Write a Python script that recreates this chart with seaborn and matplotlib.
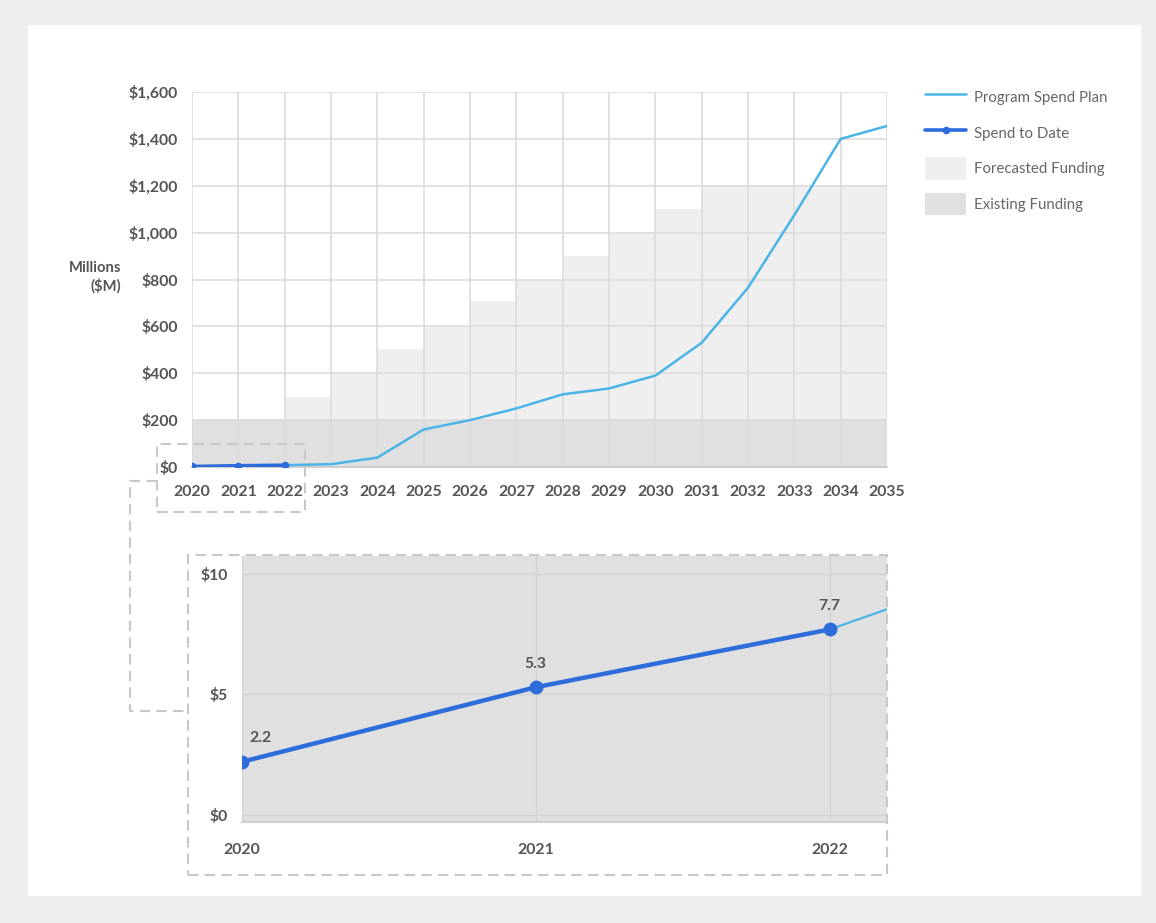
import matplotlib
matplotlib.use("Agg")
import matplotlib.pyplot as plt
from matplotlib.patches import Rectangle, Patch
from matplotlib.lines import Line2D
import seaborn as sns
import pandas as pd

# ---------------- data ----------------
years = list(range(2020, 2036))
plan_spend = [2.2, 5.3, 7.7, 12, 40, 160, 200, 250, 310, 335, 390, 530, 765, 1075, 1400, 1455]
bar_years = list(range(2020, 2035))
forecast_funding = [200, 200, 300, 400, 505, 600, 710, 800, 900, 1000, 1100, 1200, 1200, 1200, 1200]
existing_funding = [200] * 15
spend_years = [2020, 2021, 2022]
spend_to_date = [2.2, 5.3, 7.7]
y_ticks_main = [0, 200, 400, 600, 800, 1000, 1200, 1400, 1600]
y_ticks_inset = [0, 5, 10]

C_PLAN = "#4bb4e6"
C_SPEND = "#2d6cdb"
C_FORE = "#efefef"
C_EXIST = "#e0e0e0"
C_GRID = "#dcdcdc"
C_TEXT = "#555555"
C_DASH = "#c8c8c8"
FS = 11.3

sns.set_theme(style="white")
plt.rcParams["font.family"] = ["Lato", "DejaVu Sans"]

W, H = 1156, 923
fig = plt.figure(figsize=(W / 100, H / 100), dpi=100)
fig.patch.set_facecolor("#efefef")
fig.add_artist(Rectangle((28 / W, 1 - 896 / H), (1141 - 28) / W, (896 - 25) / H,
                         transform=fig.transFigure, facecolor="white", edgecolor="none", zorder=0))

def fx(px):
    return px / W

def fy(py):
    return 1 - py / H

plan_df = pd.DataFrame({"year": years, "spend": plan_spend})
spend_df = pd.DataFrame({"year": spend_years, "spend": spend_to_date})

# ---------------- main axes ----------------
ax = fig.add_axes([fx(192), fy(467), fx(887) - fx(192), fy(92) - fy(467)])
ax.set_facecolor("white")
ax.bar(bar_years, forecast_funding, width=1, align="edge", color=C_FORE, edgecolor="none", zorder=1)
ax.bar(bar_years, existing_funding, width=1, align="edge", color=C_EXIST, edgecolor="none", zorder=1.1)
sns.lineplot(data=plan_df, x="year", y="spend", ax=ax, color=C_PLAN, lw=1.8, zorder=3)
sns.lineplot(data=spend_df, x="year", y="spend", ax=ax, color=C_SPEND, lw=2.6,
             marker="o", markersize=5.5, markeredgewidth=0, zorder=4)
ax.set_xlim(2020, 2035)
ax.set_ylim(0, 1600)
ax.set_xticks(years)
ax.set_yticks(y_ticks_main)
ax.set_yticklabels([f"${v:,}" for v in y_ticks_main])
ax.set_axisbelow("line")
ax.grid(True, color=C_GRID, lw=1.2, zorder=2)
ax.set_xlabel("")
ax.set_ylabel("")
for s in ["top", "right", "left"]:
    ax.spines[s].set_visible(False)
ax.spines["bottom"].set_color("#cfcfcf")
ax.spines["bottom"].set_linewidth(1.5)
ax.tick_params(axis="both", length=0, colors=C_TEXT, labelsize=FS)
ax.tick_params(axis="y", pad=10)
ax.tick_params(axis="x", pad=13)
for lab in ax.get_xticklabels() + ax.get_yticklabels():
    lab.set_fontweight("bold")
    lab.set_color(C_TEXT)

fig.text(fx(121), fy(268), "Millions", ha="right", va="center", fontsize=10.6,
         fontweight="bold", color=C_TEXT)
fig.text(fx(121), fy(286), "($M)", ha="right", va="center", fontsize=10.6,
         fontweight="bold", color=C_TEXT)

# ---------------- legend ----------------
handles = [
    Line2D([], [], color=C_PLAN, lw=1.8),
    Line2D([], [], color=C_SPEND, lw=2.6, marker="o", markersize=5.5, markeredgewidth=0),
    Patch(facecolor=C_FORE, edgecolor="none"),
    Patch(facecolor=C_EXIST, edgecolor="none"),
]
labels = ["Program Spend Plan", "Spend to Date", "Forecasted Funding", "Existing Funding"]
leg = fig.legend(handles, labels, loc="upper left", bbox_to_anchor=(fx(919), fy(80)),
                 frameon=False, handlelength=2.75, handleheight=1.9, labelspacing=0.9,
                 handletextpad=0.5, fontsize=10.8, numpoints=1, borderaxespad=0)
for t in leg.get_texts():
    t.set_color("#666666")

# ---------------- inset axes ----------------
ax2 = fig.add_axes([fx(242), fy(822), fx(887) - fx(242), fy(556) - fy(822)])
ax2.set_facecolor(C_EXIST)
sns.lineplot(data=plan_df, x="year", y="spend", ax=ax2, color=C_PLAN, lw=1.6, zorder=3)
sns.lineplot(data=spend_df, x="year", y="spend", ax=ax2, color=C_SPEND, lw=3.2,
             marker="o", markersize=10, markeredgewidth=0, zorder=4)
ax2.set_xlim(2020, 2022.195)
ax2.set_ylim(-0.3, 10.75)
ax2.set_xticks(spend_years)
ax2.set_yticks(y_ticks_inset)
ax2.set_yticklabels([f"${v}" for v in y_ticks_inset])
ax2.grid(True, color="#d2d2d2", lw=1.0)
ax2.set_axisbelow(True)
ax2.set_xlabel("")
ax2.set_ylabel("")
for s in ["top", "right", "left"]:
    ax2.spines[s].set_visible(False)
ax2.spines["bottom"].set_color("#cfcfcf")
ax2.spines["bottom"].set_linewidth(1.5)
ax2.tick_params(axis="both", length=0, colors=C_TEXT, labelsize=FS)
ax2.tick_params(axis="y", pad=10)
ax2.tick_params(axis="x", pad=15)
for lab in ax2.get_xticklabels() + ax2.get_yticklabels():
    lab.set_fontweight("bold")
    lab.set_color(C_TEXT)
for i, (x, y) in enumerate(zip(spend_years, spend_to_date)):
    dx = 13 if i == 0 else 0
    ax2.annotate(f"{y}", (x, y), xytext=(dx, 12), textcoords="offset points",
                 ha="center", va="bottom", fontsize=FS, fontweight="bold", color=C_TEXT)

# ---------------- dashed decorations ----------------
dash = dict(color=C_DASH, lw=1.5, ls=(0, (5, 3)), transform=fig.transFigure, zorder=5)
fig.add_artist(Rectangle((fx(157), fy(512)), fx(305) - fx(157), fy(444) - fy(512),
                         transform=fig.transFigure, fill=False, edgecolor=C_DASH, lw=1.5,
                         ls=(0, (5, 3)), zorder=5))
fig.add_artist(Rectangle((fx(188), fy(875)), fx(887) - fx(188), fy(555) - fy(875),
                         transform=fig.transFigure, fill=False, edgecolor=C_DASH, lw=1.5,
                         ls=(0, (5, 3)), zorder=5))
fig.add_artist(Line2D([fx(157), fx(130), fx(130), fx(188)],
                      [fy(481), fy(481), fy(711), fy(711)], **dash))

fig.savefig("out.png", dpi=100, facecolor=fig.get_facecolor())
